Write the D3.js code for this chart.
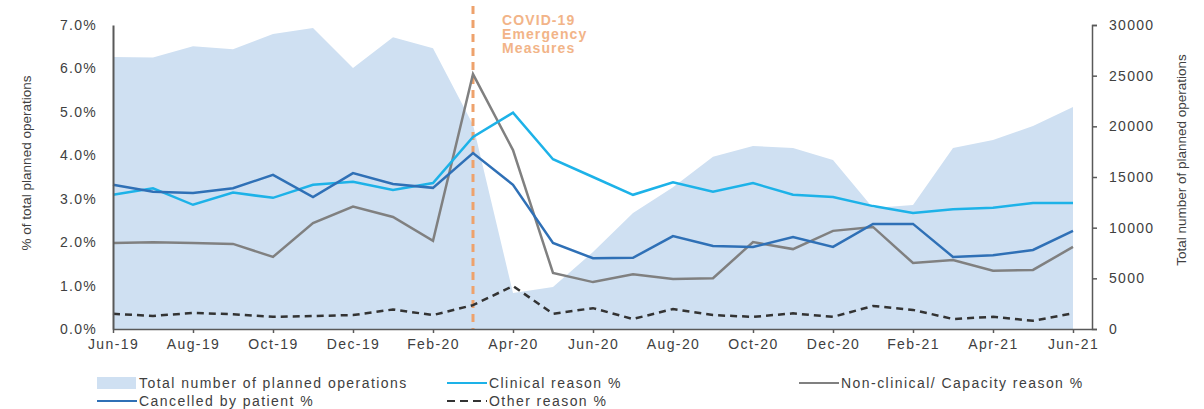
<!DOCTYPE html>
<html><head><meta charset="utf-8">
<script src="https://cdn.jsdelivr.net/npm/d3@7"></script>
<style>body{margin:0;background:#fff;} text{font-family:"Liberation Sans",Arial,sans-serif;}</style>
</head><body><svg id="c" width="1204" height="409"></svg>
<script>
const months = ["Jun-19","Jul-19","Aug-19","Sep-19","Oct-19","Nov-19","Dec-19","Jan-20","Feb-20","Mar-20","Apr-20","May-20","Jun-20","Jul-20","Aug-20","Sep-20","Oct-20","Nov-20","Dec-20","Jan-21","Feb-21","Mar-21","Apr-21","May-21","Jun-21"];
const totalOps = [26850,26800,27900,27600,29100,29700,25750,28800,27700,20150,3550,4150,7600,11450,14000,17000,18060,17860,16680,11940,12240,17860,18650,20030,21900];
const clinical = [3.09,3.24,2.86,3.14,3.02,3.32,3.39,3.20,3.36,4.42,4.98,3.91,3.50,3.09,3.38,3.16,3.36,3.09,3.04,2.83,2.67,2.76,2.79,2.90,2.90];
const patient = [3.32,3.16,3.13,3.24,3.55,3.04,3.59,3.34,3.25,4.05,3.32,1.98,1.63,1.64,2.14,1.91,1.89,2.12,1.89,2.42,2.42,1.66,1.70,1.82,2.26];
const nonClinical = [1.98,2.00,1.98,1.96,1.66,2.44,2.82,2.58,2.03,5.87,4.12,1.29,1.08,1.26,1.15,1.17,2.00,1.84,2.26,2.35,1.52,1.59,1.34,1.36,1.89];
const other = [0.35,0.30,0.37,0.34,0.28,0.30,0.32,0.45,0.32,0.55,0.99,0.35,0.48,0.23,0.46,0.32,0.28,0.36,0.28,0.53,0.44,0.23,0.28,0.19,0.36];
const pctTicks = [0,1,2,3,4,5,6,7];
const opsTicks = [0,5000,10000,15000,20000,25000,30000];
const xTickLabels = ["Jun-19","Aug-19","Oct-19","Dec-19","Feb-20","Apr-20","Jun-20","Aug-20","Oct-20","Dec-20","Feb-21","Apr-21","Jun-21"];
const covidMonth = "Mar-20";

const svg = d3.select("#c");
const x = d3.scalePoint().domain(months).range([113,1073]);
const yL = d3.scaleLinear().domain([0,7]).range([329,25]);
const yR = d3.scaleLinear().domain([0,30000]).range([329,25]);
const axisCol = "#595959", txtCol = "#404040";

// area
svg.append("path").datum(totalOps)
  .attr("d", d3.area().x((d,i)=>x(months[i])).y0(yR(0)).y1(d=>yR(d)))
  .attr("fill","#cfe0f2");

// covid line
svg.append("line").attr("x1",x(covidMonth)).attr("x2",x(covidMonth)).attr("y1",6).attr("y2",329)
  .attr("stroke","#eea26c").attr("stroke-width",3).attr("stroke-dasharray","8,6");
const ct = svg.append("text").attr("fill","#f2b488").attr("font-weight","bold").attr("font-size",14).attr("letter-spacing",1.1);
["COVID-19","Emergency","Measures"].forEach((t,i)=>ct.append("tspan").attr("x",x(covidMonth)+29).attr("y",25+i*14).text(t));

// lines
const line = arr => d3.line().x((d,i)=>x(months[i])).y(d=>yL(d))(arr);
svg.append("path").attr("d",line(nonClinical)).attr("fill","none").attr("stroke","#808080").attr("stroke-width",2.5);
svg.append("path").attr("d",line(clinical)).attr("fill","none").attr("stroke","#1db2e8").attr("stroke-width",2.5);
svg.append("path").attr("d",line(patient)).attr("fill","none").attr("stroke","#2f70b6").attr("stroke-width",2.5);
svg.append("path").attr("d",line(other)).attr("fill","none").attr("stroke","#333").attr("stroke-width",2.5).attr("stroke-dasharray","7,5");

// left axis
const gL = svg.append("g").attr("transform","translate(113,0)")
  .call(d3.axisLeft(yL).tickValues(pctTicks).tickSize(0).tickPadding(16).tickFormat(d=>d.toFixed(1)+"%"));
gL.select(".domain").attr("stroke",axisCol).attr("stroke-width",2);
gL.selectAll("text").attr("font-size",14).attr("fill",txtCol).attr("letter-spacing",1.3).attr("font-family","Liberation Sans, Arial");

// right axis
const gR = svg.append("g").attr("transform","translate(1092,0)")
  .call(d3.axisRight(yR).tickValues(opsTicks).tickSize(5).tickSizeOuter(5).tickPadding(12).tickFormat(d3.format("d")));
gR.select(".domain").attr("stroke",axisCol).attr("stroke-width",1.5);
gR.selectAll("line").attr("stroke",axisCol).attr("stroke-width",1.5);
gR.selectAll("text").attr("font-size",14).attr("fill",txtCol).attr("letter-spacing",1.3).attr("font-family","Liberation Sans, Arial");

// x axis
const gX = svg.append("g").attr("transform","translate(0,329)")
  .call(d3.axisBottom(x).tickValues(xTickLabels).tickSize(4).tickSizeOuter(0).tickPadding(6));
gX.select(".domain").attr("d","M113,0.5H1092").attr("stroke",axisCol).attr("stroke-width",1.5);
gX.selectAll("line").attr("stroke",axisCol).attr("stroke-width",1.5);
gX.selectAll("text").attr("font-size",14).attr("fill",txtCol).attr("letter-spacing",1.4).attr("font-family","Liberation Sans, Arial");

// axis titles
svg.append("text").attr("transform","translate(31,163) rotate(-90)").attr("text-anchor","middle")
  .attr("font-size",13.5).attr("fill",txtCol).style("font-family","'Liberation Sans Narrow','Arial Narrow',sans-serif")
  .text("% of total planned operations");
svg.append("text").attr("transform","translate(1186,160) rotate(-90)").attr("text-anchor","middle")
  .attr("font-size",13.5).attr("fill",txtCol).style("font-family","'Liberation Sans Narrow','Arial Narrow',sans-serif")
  .text("Total number of planned operations");

// legend
const legend = [
  {label:"Total number of planned operations", type:"area", col:"#cfe0f2", x:97, y:383},
  {label:"Clinical reason %", type:"line", col:"#1db2e8", x:447, y:383},
  {label:"Non-clinical/ Capacity reason %", type:"line", col:"#808080", x:799, y:383},
  {label:"Cancelled by patient %", type:"line", col:"#2f70b6", x:97, y:401},
  {label:"Other reason %", type:"dash", col:"#333", x:447, y:401}
];
legend.forEach(l=>{
  if(l.type==="area") svg.append("rect").attr("x",l.x).attr("y",l.y-6).attr("width",39).attr("height",12).attr("fill",l.col);
  else svg.append("line").attr("x1",l.x).attr("x2",l.x+40).attr("y1",l.y).attr("y2",l.y).attr("stroke",l.col).attr("stroke-width",2)
    .attr("stroke-dasharray",l.type==="dash"?"8,5":null);
  svg.append("text").attr("x",l.x+42).attr("y",l.y+5).attr("font-size",14).attr("fill",txtCol).attr("letter-spacing",1.45).text(l.label);
});
</script></body></html>
